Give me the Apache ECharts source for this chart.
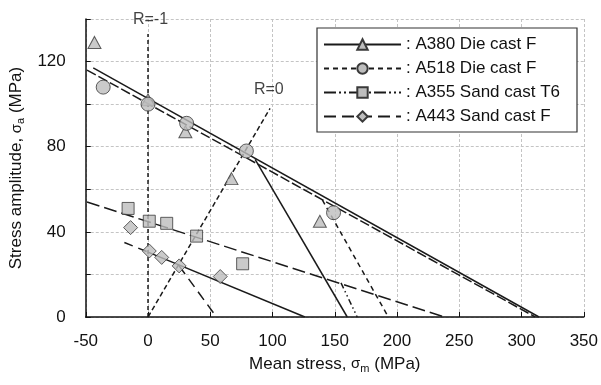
<!DOCTYPE html>
<html><head><meta charset="utf-8">
<script src="https://cdn.jsdelivr.net/npm/echarts@6/dist/echarts.min.js"></script>
<style>html,body{margin:0;padding:0;background:#fff}#c{width:601px;height:385px}</style>
</head><body><div id="c"></div>
<script>
// ---- axis ranges / ticks ----
const xMin = -50, xMax = 350, xStep = 50;
const yMin = 0, yMax = 140, yStep = 20, yLabelStep = 40;

// ---- material names ----
const materials = ['A380 Die cast F', 'A518 Die cast F', 'A355 Sand cast T6', 'A443 Sand cast F'];

// ---- test points (mean stress, amplitude) ----
const a380X = [-43, 0, 30, 67, 138];
const a380Y = [129, 102, 87, 65, 45];
const a518X = [-36, 0, 31, 79, 149];
const a518Y = [108, 100, 91, 78, 49];
const a355X = [-16, 1, 15, 39, 76];
const a355Y = [51, 45, 44, 38, 25];
const a443X = [-14, 1, 11, 25, 58];
const a443Y = [42, 31, 28, 24, 19];

// ---- fitted lines (endpoints) ----
const a380LineX = [-44, 314];  const a380LineY = [117, 0];
const a380SteepX = [86, 160];  const a380SteepY = [74, 0];
const a518LineX = [-49, 311];  const a518LineY = [116, 0];
const a518SteepX = [140, 193]; const a518SteepY = [55, 0];
const a355LineX = [-49, 238];  const a355LineY = [54, 0];
const a355SteepX = [155, 168]; const a355SteepY = [16, 0];
const a443LineAX = [-19, 0];   const a443LineAY = [35, 30.5];
const a443LineBX = [0, 126];   const a443LineBY = [30.5, 0];
const a443SteepX = [25, 55];   const a443SteepY = [24, 0];

// ---- stress ratio lines ----
const rNeg1X = [0, 0];  const rNeg1Y = [0, 133];
const r0X = [0, 98];    const r0Y = [0, 98];
const rLabelText = ['R=-1', 'R=0'];
const rLabelX = [2, 97];
const rLabelY = [139.5, 107];

const zip = (xs, ys) => xs.map((x, i) => [x, ys[i]]);
const FONT = "'Liberation Sans', Arial, sans-serif";
const LINE = '#1a1a1a';
const markerStyle = { color: '#bdbdbd', borderColor: '#3a3a3a', borderWidth: 1 };

const symbols = ['triangle', 'circle', 'rect', 'diamond'];
const symSizes = [[13, 12], 14, 12, 14];
const ptX = [a380X, a518X, a355X, a443X];
const ptY = [a380Y, a518Y, a355Y, a443Y];
const lineDash = ['solid', [10, 3], [13, 5], 'solid'];
const legendDash = ['solid', [5, 4], [12, 3, 2, 3, 2, 3], [12, 6]];

const series = [];
const goodman = [
  zip(a380LineX, a380LineY),
  zip(a518LineX, a518LineY),
  zip(a355LineX, a355LineY),
  zip(a443LineBX, a443LineBY)
];
materials.forEach((m, i) => {
  series.push({
    name: m, type: 'line', data: goodman[i], showSymbol: false,
    symbol: symbols[i], symbolSize: symSizes[i], itemStyle: markerStyle,
    lineStyle: { color: LINE, width: 1.5, type: lineDash[i] },
    z: 3, silent: true
  });
});
const extra = [
  [zip(a380SteepX, a380SteepY), 'solid'],
  [zip(a518SteepX, a518SteepY), [5, 4]],
  [zip(a355SteepX, a355SteepY), [6, 3, 1.5, 3, 1.5, 3]],
  [zip(a443LineAX, a443LineAY), [9, 6]],
  [zip(a443SteepX, a443SteepY), [10, 6]],
  [zip(rNeg1X, rNeg1Y), [4, 3]],
  [zip(r0X, r0Y), [5, 3]]
];
extra.forEach((e, i) => {
  series.push({
    name: 'line' + i, type: 'line', data: e[0], showSymbol: false, symbol: 'none',
    lineStyle: { color: LINE, width: 1.5, type: e[1] }, z: 3, silent: true
  });
});
materials.forEach((m, i) => {
  series.push({
    name: 'pts' + i, type: 'scatter', data: zip(ptX[i], ptY[i]),
    symbol: symbols[i], symbolSize: symSizes[i], itemStyle: markerStyle, z: 5
  });
});
series.push({
  name: 'rlabels', type: 'scatter', symbolSize: 1, clip: false,
  itemStyle: { color: 'rgba(0,0,0,0)' },
  data: rLabelText.map((t, i) => ({ value: [rLabelX[i], rLabelY[i]], name: t })),
  label: { show: true, position: 'inside', formatter: p => p.name, color: '#111', fontSize: 16, fontFamily: FONT },
  z: 6
});

const chart = echarts.init(document.getElementById('c'), null, { renderer: 'canvas' });
chart.setOption({
  animation: false,
  backgroundColor: '#fff',
  grid: { left: 82, right: 17, top: 19, bottom: 68, containLabel: false },
  graphic: [{
    type: 'rect', z: 3, silent: true,
    shape: { x: 317, y: 28, width: 260, height: 104 },
    style: { fill: '#fff', stroke: '#333', lineWidth: 1.2 }
  }],
  legend: {
    data: materials.map((m, i) => ({ name: m, lineStyle: { type: legendDash[i] } })),
    orient: 'vertical', left: 317, top: 28, z: 5,
    itemWidth: 77, itemHeight: 13, itemGap: 7,
    padding: [8, 12, 8, 6],
    formatter: n => ': ' + n,
    textStyle: { fontFamily: FONT, fontSize: 17, color: '#111' },
    selectedMode: false
  },
  xAxis: {
    type: 'value', min: xMin, max: xMax, interval: xStep,
    name: 'Mean stress, {s|σ}{sub|m} (MPa)', nameLocation: 'middle', nameGap: 37,
    nameTextStyle: { fontFamily: FONT, fontSize: 17, color: '#111',
      rich: { s: { fontSize: 15, fontFamily: FONT }, sub: { fontSize: 11, padding: [9, 0, 0, 0], fontFamily: FONT } } },
    axisLine: { onZero: false, lineStyle: { color: '#111', width: 1.5 } },
    axisTick: { inside: true, length: 5, lineStyle: { color: '#111', width: 1 } },
    axisLabel: { margin: 16, fontFamily: FONT, fontSize: 17, color: '#111' },
    splitLine: { lineStyle: { color: '#c4c4c4', type: [3, 2], width: 1 } }
  },
  yAxis: {
    type: 'value', min: yMin, max: yMax, interval: yStep,
    name: 'Stress amplitude, {s|σ}{sub|a} (MPa)', nameLocation: 'middle', nameGap: 56,
    nameTextStyle: { fontFamily: FONT, fontSize: 17, color: '#111',
      rich: { s: { fontSize: 15, fontFamily: FONT }, sub: { fontSize: 11, padding: [9, 0, 0, 0], fontFamily: FONT } } },
    axisLine: { onZero: false, lineStyle: { color: '#111', width: 1.5 } },
    axisTick: { inside: true, length: 5, lineStyle: { color: '#111', width: 1 } },
    axisLabel: { margin: 20, fontFamily: FONT, fontSize: 17, color: '#111',
      formatter: v => (v % yLabelStep === 0 ? String(v) : '') },
    splitLine: { lineStyle: { color: '#c4c4c4', type: [3, 2], width: 1 } }
  },
  series: series
});
</script></body></html>
